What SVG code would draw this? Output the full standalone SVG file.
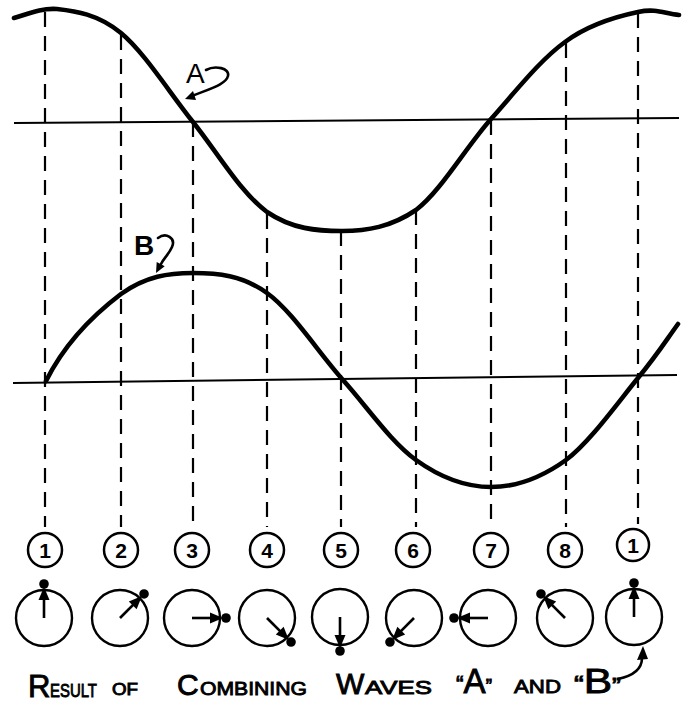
<svg xmlns="http://www.w3.org/2000/svg" width="689" height="705" viewBox="0 0 689 705">
<style>
.wave{fill:none;stroke:#000;stroke-width:4.6;stroke-linecap:round;stroke-linejoin:round}
.axis{fill:none;stroke:#000;stroke-width:2}
.guide{fill:none;stroke:#000;stroke-width:2.2;stroke-dasharray:15 9}
.num{fill:none;stroke:#000;stroke-width:2.5}
.numt{font-family:"Liberation Sans",Arial,sans-serif;font-weight:bold;font-size:21px;text-anchor:middle;fill:#000}
.dial{fill:none;stroke:#000;stroke-width:2.4}
.lbl{font-family:"Liberation Sans",Arial,sans-serif;font-size:28px;fill:#000}
.cap{font-family:"Liberation Sans",Arial,sans-serif;fill:#000;stroke:#000;stroke-width:0.9}
.hook{fill:none;stroke:#000;stroke-width:2.6;stroke-linecap:round}
</style>
<defs>
<g id="phasor">
<line x1="0" y1="0" x2="28" y2="0" stroke="#000" stroke-width="2.6"/>
<polygon points="31,0 18,-5.5 18,5.5" fill="#000"/>
<circle cx="34" cy="0" r="4.8" fill="#000"/>
</g>
</defs>

<g id="axes">
<line class="axis" x1="14" y1="123" x2="679" y2="118"/>
<line class="axis" x1="13" y1="383" x2="677" y2="375"/>
</g>

<g id="connectors">
<line class="guide" x1="45" y1="12" x2="45" y2="527"/>
<line class="guide" x1="121" y1="35" x2="121" y2="527"/>
<line class="guide" x1="193" y1="122" x2="193" y2="527"/>
<line class="guide" x1="267" y1="214" x2="267" y2="527"/>
<line class="guide" x1="341" y1="231" x2="341" y2="527"/>
<line class="guide" x1="416" y1="210" x2="416" y2="527"/>
<line class="guide" x1="491" y1="120" x2="491" y2="527"/>
<line class="guide" x1="566" y1="43" x2="566" y2="527"/>
<line class="guide" x1="638" y1="13" x2="638" y2="524"/>
</g>

<g id="wave-A">
<path class="wave" d="M14,18 C28,14 40,8 57,9 C75,11 98,14 121,33 C144,52 169,92 193,122 C217,152 240,192 267,212 C292,229 317,231 342,231 C367,231 391,227 416,210 C441,191 466,147 491,119 C516,91 540,60 565,42 C589,24 619,16 638,12 C657,8 665,14 679,15"/>
</g>
<g id="wave-B">
<path class="wave" d="M46,381 C58,357 80,325 121,294 C146,276 169,273 193,273 C217,273 242,275 267,293 C292,311 318,352 343,380 C368,408 391,442 416,460 C441,478 466,487 491,487 C516,487 541,478 566,460 C590,442 619,401 638,378 C657,355 665,342 678,324"/>
</g>

<g id="label-A">
<text class="lbl" x="186" y="83">A</text>
<path class="hook" d="M206,70 C215,65 230,68 228,76 C226,84 212,88 192,96"/>
<polygon points="185,99 196,100 193,91" fill="#000"/>
</g>
<g id="label-B">
<text class="lbl" x="134" y="255" font-weight="bold">B</text>
<path class="hook" d="M158,238 C166,232 176,238 172,247 C169,254 164,258 161,264"/>
<polygon points="156,273 164.7,266.3 156.7,262.1" fill="#000"/>
</g>

<g id="n1"><circle class="num" cx="45" cy="550" r="17"/><text class="numt" x="45" y="558">1</text></g>
<g id="n2"><circle class="num" cx="121" cy="550" r="17"/><text class="numt" x="121" y="558">2</text></g>
<g id="n3"><circle class="num" cx="192" cy="550" r="17"/><text class="numt" x="192" y="558">3</text></g>
<g id="n4"><circle class="num" cx="267" cy="550" r="17"/><text class="numt" x="267" y="558">4</text></g>
<g id="n5"><circle class="num" cx="341" cy="550" r="17"/><text class="numt" x="341" y="558">5</text></g>
<g id="n6"><circle class="num" cx="413" cy="550" r="17"/><text class="numt" x="413" y="558">6</text></g>
<g id="n7"><circle class="num" cx="491" cy="550" r="17"/><text class="numt" x="491" y="558">7</text></g>
<g id="n8"><circle class="num" cx="565" cy="550" r="17"/><text class="numt" x="565" y="558">8</text></g>
<g id="n1b"><circle class="num" cx="633" cy="545" r="16"/><text class="numt" x="633" y="553">1</text></g>

<g id="p1"><circle class="dial" cx="44" cy="618" r="28"/><use href="#phasor" transform="translate(44,618) rotate(-90)"/></g>
<g id="p2"><circle class="dial" cx="120" cy="618" r="28"/><use href="#phasor" transform="translate(120,618) rotate(-45)"/></g>
<g id="p3"><circle class="dial" cx="192" cy="618" r="28"/><use href="#phasor" transform="translate(192,618) rotate(0)"/></g>
<g id="p4"><circle class="dial" cx="267" cy="618" r="28"/><use href="#phasor" transform="translate(267,618) rotate(45)"/></g>
<g id="p5"><circle class="dial" cx="340" cy="617" r="28"/><use href="#phasor" transform="translate(340,617) rotate(90)"/></g>
<g id="p6"><circle class="dial" cx="414" cy="618" r="28"/><use href="#phasor" transform="translate(414,618) rotate(135)"/></g>
<g id="p7"><circle class="dial" cx="488" cy="618" r="28"/><use href="#phasor" transform="translate(488,618) rotate(180)"/></g>
<g id="p8"><circle class="dial" cx="565" cy="618" r="28"/><use href="#phasor" transform="translate(565,618) rotate(225)"/></g>
<g id="p1b"><circle class="dial" cx="634" cy="617" r="28"/><use href="#phasor" transform="translate(634,617) rotate(-90)"/></g>

<g id="caption">
<text class="cap" x="28" y="697"><tspan font-size="31">R</tspan><tspan x="50" font-size="19" textLength="47" lengthAdjust="spacingAndGlyphs">ESULT</tspan></text>
<text class="cap" x="112" y="695" font-size="16" textLength="26" lengthAdjust="spacingAndGlyphs">OF</text>
<text class="cap" x="177" y="695"><tspan font-size="30">C</tspan><tspan x="200" font-size="19" textLength="107" lengthAdjust="spacingAndGlyphs">OMBINING</tspan></text>
<text class="cap" x="336" y="694"><tspan font-size="30">W</tspan><tspan x="365" font-size="19" textLength="67" lengthAdjust="spacingAndGlyphs">AVES</tspan></text>
<text class="cap" x="456" y="693" textLength="36" lengthAdjust="spacingAndGlyphs"><tspan font-size="24">“</tspan><tspan font-size="35">A</tspan><tspan font-size="20">”</tspan></text>
<text class="cap" x="514" y="693" font-size="19" textLength="47" lengthAdjust="spacingAndGlyphs">AND</text>
<text class="cap" x="574" y="693" textLength="47" lengthAdjust="spacingAndGlyphs"><tspan font-size="24">“</tspan><tspan font-size="35">B</tspan><tspan font-size="22">”</tspan></text>
<path class="hook" stroke-width="3.2" d="M618,679 C632,676 642,670 642,658"/>
<polygon points="643,646 637,660 648,659" fill="#000"/>
</g>
</svg>
